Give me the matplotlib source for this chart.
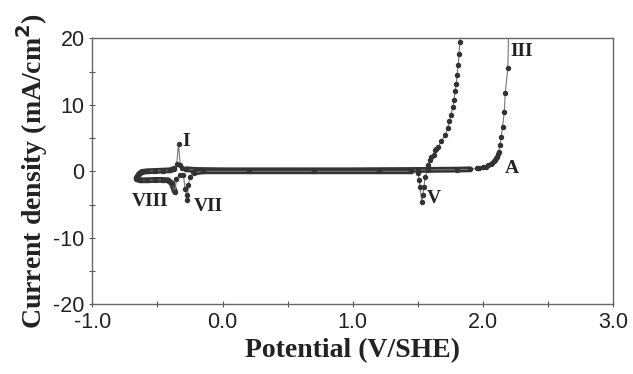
import matplotlib
matplotlib.use("Agg")
import matplotlib.pyplot as plt
from matplotlib.ticker import MultipleLocator, FormatStrFormatter

plt.rcParams["axes.unicode_minus"] = False

# first scan (up to III)
v1 = [-0.66, -0.64, -0.62, -0.58, -0.52, -0.46, -0.40, -0.37, -0.352, -0.338, -0.325,
      -0.31, -0.28, -0.2, 0.0, 0.5, 1.0, 1.5, 1.8, 1.9, 1.95, 1.97, 2.0, 2.02, 2.04,
      2.06, 2.07, 2.085, 2.095, 2.10, 2.105, 2.115, 2.12, 2.13, 2.14, 2.15, 2.163,
      2.17, 2.19, 2.20]
i1 = [-1.0, -0.4, -0.1, 0.0, 0.05, 0.1, 0.15, 0.4, 1.1, 4.1, 1.0,
      0.5, 0.3, 0.2, 0.15, 0.15, 0.15, 0.2, 0.25, 0.3, 0.45, 0.5, 0.6, 0.7, 0.9,
      1.1, 1.2, 1.5, 1.75, 1.95, 2.2, 2.6, 2.95, 4.0, 5.2, 6.7, 8.9,
      11.7, 15.5, 24.0]

# second scan (dips VIII, VII, V and rise near 1.8 V)
v2 = [-0.66, -0.63, -0.58, -0.52, -0.46, -0.42, -0.39, -0.365, -0.355, -0.33, -0.30,
      -0.288, -0.275, -0.272, -0.262, -0.25, -0.22, -0.15, 0.2, 0.7, 1.2, 1.45,
      1.50, 1.51, 1.516, 1.53, 1.537, 1.547, 1.555, 1.575, 1.58, 1.59, 1.60, 1.62,
      1.63, 1.64, 1.656, 1.68, 1.71, 1.729, 1.74, 1.754, 1.767, 1.777, 1.785,
      1.795, 1.80, 1.81, 1.815, 1.822, 1.83]
i2 = [-1.2, -1.35, -1.35, -1.3, -1.3, -1.35, -1.8, -3.1, -1.2, -0.5, -0.6,
      -2.6, -3.6, -4.3, -2.0, -0.8, -0.2, 0.0, 0.0, 0.0, 0.0, 0.0,
      -0.3, -1.3, -2.3, -4.6, -3.6, -2.3, -0.8, 0.2, 1.0, 1.7, 2.2, 2.5,
      3.2, 3.4, 3.7, 4.5, 5.5, 6.5, 7.5, 8.5, 9.6, 10.7, 12.0,
      13.2, 14.5, 16.0, 17.7, 19.5, 21.0]

peak_labels = ["I", "VIII", "VII", "V", "A", "III"]
peak_v = [-0.31, -0.70, -0.22, 1.57, 2.17, 2.21]
peak_i = [3.2, -5.8, -6.6, -5.3, -0.8, 16.8]

fig = plt.figure(figsize=(6.33, 3.74), dpi=100)
ax = fig.add_axes([0.1458, 0.1864, 0.8231, 0.7112])

# dense parts of the scans look like a thick band
for v, cur, segs in [(v1, i1, [(0, 8), (12, 20)]), (v2, i2, [(0, 8), (16, 22)])]:
    for a, b in segs:
        ax.plot(v[a:b], cur[a:b], color="#333333", lw=4.2, solid_capstyle="round")
    ax.plot(v, cur, color="#777777", lw=0.8)
    ax.plot(v, cur, ls="none", marker="o", ms=2.9, color="#333333")

for lab, x, y in zip(peak_labels, peak_v, peak_i):
    ax.text(x, y, lab, fontsize=14, fontweight="bold", family="Liberation Serif",
            color="#222222", ha="left", va="bottom")

ax.set_xlim(-1.0, 3.0)
ax.set_ylim(-20, 20)
ax.xaxis.set_major_locator(MultipleLocator(1.0))
ax.xaxis.set_minor_locator(MultipleLocator(0.5))
ax.yaxis.set_major_locator(MultipleLocator(10))
ax.yaxis.set_minor_locator(MultipleLocator(5))
ax.xaxis.set_major_formatter(FormatStrFormatter("%.1f"))
ax.tick_params(which="both", direction="inout", length=4, width=0.8, color="#555555",
               labelsize=15.5, labelcolor="#222222")
for lbl in ax.get_xticklabels() + ax.get_yticklabels():
    lbl.set_family("Liberation Sans")
for s in ax.spines.values():
    s.set_color("#666666")
    s.set_linewidth(1.0)

ax.set_xlabel("Potential (V/SHE)", fontsize=20, fontweight="bold",
              family="Liberation Serif", color="#222222", labelpad=4)
ax.set_ylabel("Current density (mA/cm$^\\mathbf{2}$)", fontsize=20, fontweight="bold",
              family="Liberation Serif", color="#222222", labelpad=2)

fig.savefig("out.png", dpi=100)
